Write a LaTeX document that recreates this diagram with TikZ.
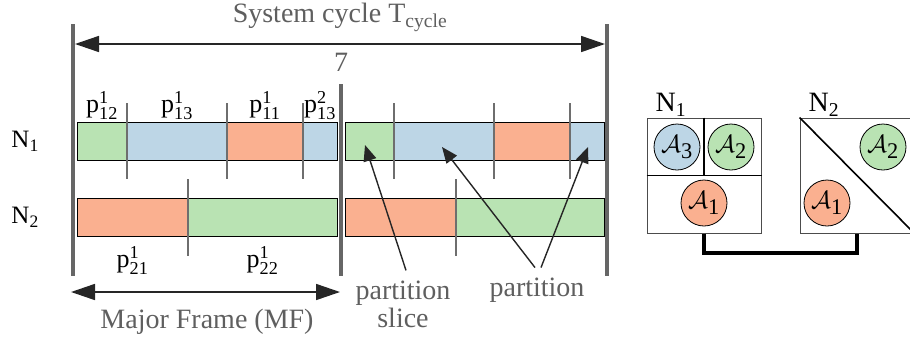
\documentclass[tikz,border=0pt]{standalone}
\usepackage{amsmath}
\usepackage{fontspec}
\setmainfont{Liberation Serif}
\usepackage{tikz}
\usetikzlibrary{arrows.meta,positioning,calc}

\definecolor{pgreen}{RGB}{185,227,179}
\definecolor{pblue}{RGB}{189,214,230}
\definecolor{porange}{RGB}{250,176,144}
\definecolor{txtgray}{RGB}{95,95,95}
\definecolor{framegray}{RGB}{102,102,102}
\definecolor{tickgray}{RGB}{110,110,110}

\begin{document}
\begin{tikzpicture}[
  x=1pt, y=-1pt,
  slice/.style={fill=#1, minimum height=38pt, inner sep=0pt, outer sep=0pt, anchor=west},
  bar/.style={draw=black, line width=0.9pt, minimum height=38pt, inner sep=0pt, outer sep=0pt, anchor=west},
  tick/.style={draw=tickgray, line width=1.4pt},
  frame/.style={draw=framegray, line width=4.5pt},
  lbl/.style={font=\fontsize{28}{28}\selectfont, text=txtgray, inner sep=1pt, align=center},
  plbl/.style={font=\fontsize{26}{28}\selectfont, inner sep=1pt},
  nlbl/.style={font=\fontsize{#1}{30}\selectfont, inner sep=1pt},
  nlbl/.default=25,
  ptr/.style={-{Triangle[length=16pt,width=13pt]}, line width=1.4pt, draw=black!85, fill=black!85},
  dim/.style={{Triangle[length=24pt,width=16pt]}-{Triangle[length=24pt,width=16pt]}, line width=1.6pt, draw=black!85, fill=black!85},
  app/.style={circle, draw, line width=0.8pt, minimum size=46pt, inner sep=0pt, fill=#1, font=\fontsize{32}{34}\selectfont},
  cpu/.style={draw=black!70, line width=1pt, minimum width=114pt, minimum height=115pt, inner sep=0pt},
  div/.style={draw=black, line width=1.6pt},
  link/.style={draw=black, line width=4pt},
]
  \useasboundingbox (0,0) rectangle (910,341);

  % Node N1, first major frame
  \node[slice=pgreen, minimum width=50pt] (a12) at (77,141) {};
  \node[slice=pblue, minimum width=100pt, right=0pt of a12] (a13) {};
  \node[slice=porange, minimum width=76pt, right=0pt of a13] (a11) {};
  \node[slice=pblue, minimum width=34pt, right=0pt of a11] (a13b) {};
  \node[bar, minimum width=260pt] (n1a) at (77,141) {};

  % Node N1, second major frame
  \node[slice=pgreen, minimum width=49pt] (b12) at (345,141) {};
  \node[slice=pblue, minimum width=100pt, right=0pt of b12] (b13) {};
  \node[slice=porange, minimum width=76pt, right=0pt of b13] (b11) {};
  \node[slice=pblue, minimum width=34pt, right=0pt of b11] (b13b) {};
  \node[bar, minimum width=259pt] (n1b) at (345,141) {};

  % Node N2, both major frames
  \node[slice=porange, minimum width=111pt] (a21) at (77,217) {};
  \node[slice=pgreen, minimum width=149pt, right=0pt of a21] (a22) {};
  \node[bar, minimum width=260pt] (n2a) at (77,217) {};
  \node[slice=porange, minimum width=111pt] (b21) at (345,217) {};
  \node[slice=pgreen, minimum width=148pt, right=0pt of b21] (b22) {};
  \node[bar, minimum width=259pt] (n2b) at (345,217) {};

  % Slice boundaries
  \foreach \s in {a12,a13,a11,b12,b13,b11}
    \draw[tick] ([yshift=19pt]\s.north east) -- ([yshift=-19pt]\s.south east);
  \foreach \s in {a21,b21}
    \draw[tick] ([yshift=19pt]\s.north east) -- ([yshift=-20pt]\s.south east);

  % Partition labels
  \node[plbl, above=1pt of a12] (p12) {p$^{\text{1}}_{\text{12}}$};
  \node[plbl, above=1pt of a13] (p13) {p$^{\text{1}}_{\text{13}}$};
  \node[plbl, above=1pt of a11] (p11) {p$^{\text{1}}_{\text{11}}$};
  \node[plbl, above=1pt of a13b] (p13b) {p$^{\text{2}}_{\text{13}}$};
  \node[plbl, below=9pt of a21] (p21) {p$^{\text{1}}_{\text{21}}$};
  \node[plbl, below=9pt of a22] (p22) {p$^{\text{1}}_{\text{22}}$};

  % Node names
  \node[nlbl, left=37pt of n1a.west] (n1) {N$_{\text{1}}$};
  \node[nlbl, left=37pt of n2a.west] (n2) {N$_{\text{2}}$};

  % Frame borders
  \draw[frame] (73,24) -- (73,276);
  \draw[frame] (341,84) -- (341,276);
  \draw[frame] (607,24) -- (607,276);

  % System cycle
  \coordinate (cycl) at (75,44);
  \coordinate (cycr) at (605,44);
  \draw[dim] (cycl) -- (cycr);
  \node[lbl] (cyc) at (340,17) {System cycle T$_{\text{cycle}}$};
  \node[lbl] (seven) at (341,62) {7};

  % Major frame
  \coordinate (mfl) at (71,292);
  \coordinate (mfr) at (340,292);
  \draw[dim] (mfl) -- (mfr);
  \node[lbl] (mf) at (207,322) {Major Frame (MF)};

  % Annotations
  \node[lbl] (pslice) at (403,304) {partition\\slice};
  \node[lbl] (ppart) at (537,290) {partition};
  \coordinate (t1) at (365,145);
  \coordinate (t2) at (442,147);
  \coordinate (t3) at (588,147);
  \draw[ptr] ([xshift=3pt,yshift=9pt]pslice.north) -- (t1);
  \draw[ptr] ([xshift=-2pt,yshift=9pt]ppart.north) -- (t2);
  \draw[ptr] ([xshift=4pt,yshift=9pt]ppart.north) -- (t3);

  % Platform N1
  \node[cpu] (n1box) at (704,175.5) {};
  \draw[div] (n1box.west) -- (n1box.east);
  \draw[div] (n1box.north) -- (n1box.center);
  \node[app=pblue] (n1a3) at (677,147) {$\mathcal{A}_{\text{3}}$};
  \node[app=pgreen] (n1a2) at (731,147) {$\mathcal{A}_{\text{2}}$};
  \node[app=porange] (n1a1) at (704,203) {$\mathcal{A}_{\text{1}}$};
  \node[nlbl=28, above right=0pt and 8pt of n1box.north west] (n1lbl) {N$_{\text{1}}$};

  % Platform N2
  \node[cpu] (n2box) at (857,175.5) {};
  \draw[div] (n2box.north west) -- (n2box.south east);
  \node[app=pgreen] (n2a2) at (883,147) {$\mathcal{A}_{\text{2}}$};
  \node[app=porange] (n2a1) at (827,203) {$\mathcal{A}_{\text{1}}$};
  \node[nlbl=28, above right=0pt and 8pt of n2box.north west] (n2lbl) {N$_{\text{2}}$};

  % Network
  \draw[link] (n1box.south) -- ++(0,19) -| (n2box.south);
\end{tikzpicture}
\end{document}
